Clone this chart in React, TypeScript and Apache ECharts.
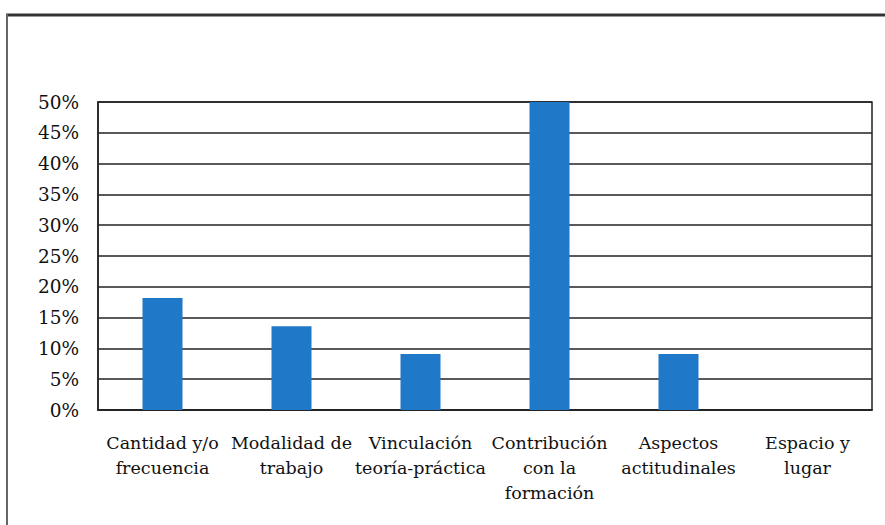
import React, { useEffect, useRef } from "react";
import * as echarts from "echarts";

const categories = [
  "Cantidad y/o\nfrecuencia",
  "Modalidad de\ntrabajo",
  "Vinculación\nteoría-práctica",
  "Contribución\ncon la\nformación",
  "Aspectos\nactitudinales",
  "Espacio y\nlugar",
];
const values = [18.2, 13.6, 9.1, 50, 9.1, 0];

export default function App() {
  const ref = useRef<HTMLDivElement>(null);
  useEffect(() => {
    document.body.style.margin = "0";
    const chart = echarts.init(ref.current!, null, { renderer: "svg" });
    const font = "DejaVu Serif";
    chart.setOption({
      animation: false,
      backgroundColor: "#ffffff",
      textStyle: { fontFamily: font },
      grid: {
        left: 98,
        top: 102,
        right: 13,
        bottom: 115,
        show: true,
        borderColor: "#222",
        borderWidth: 1.5,
      },
      xAxis: {
        type: "category",
        data: categories,
        axisLine: { show: true, lineStyle: { color: "#222", width: 1.5 } },
        axisTick: { show: false },
        axisLabel: {
          interval: 0,
          color: "#111",
          fontFamily: font,
          fontSize: 17.5,
          lineHeight: 25,
          margin: 20,
          align: "center",
        },
      },
      yAxis: {
        type: "value",
        min: 0,
        max: 50,
        interval: 5,
        axisLine: { show: true, lineStyle: { color: "#222", width: 1.5 } },
        axisTick: { show: false },
        splitLine: { show: true, lineStyle: { color: "#222", width: 1.5 } },
        axisLabel: {
          formatter: "{value}%",
          color: "#111",
          fontFamily: font,
          fontSize: 18.5,
          margin: 19,
        },
      },
      series: [
        {
          type: "bar",
          data: values,
          barWidth: 40,
          itemStyle: { color: "#1f78c8" },
        },
      ],
      graphic: [
        {
          type: "line",
          shape: { x1: 6, y1: 15, x2: 885, y2: 15 },
          style: { stroke: "#333", lineWidth: 3 },
        },
        {
          type: "line",
          shape: { x1: 7, y1: 14, x2: 7, y2: 525 },
          style: { stroke: "#666", lineWidth: 2 },
        },
      ],
    });
    return () => chart.dispose();
  }, []);
  return <div ref={ref} style={{ width: 885, height: 525 }} />;
}
